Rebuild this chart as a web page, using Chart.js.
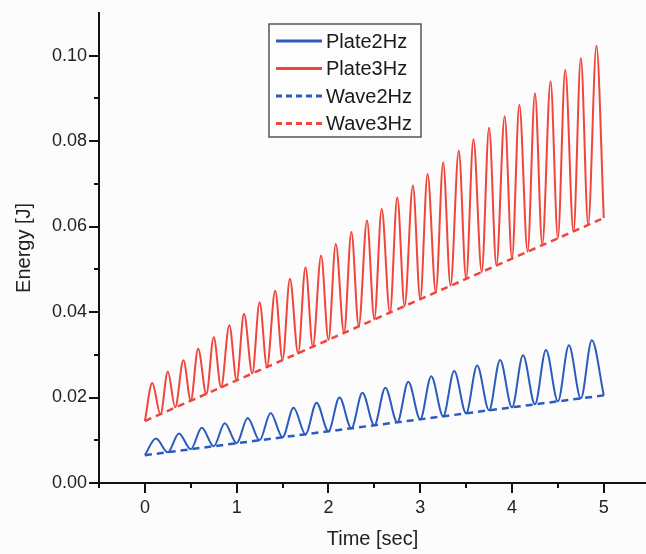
<!DOCTYPE html>
<html>
<head>
<meta charset="utf-8">
<script src="https://cdn.jsdelivr.net/npm/chart.js@4.4.1/dist/chart.umd.min.js"></script>
<style>
    html, body { margin: 0; padding: 0; background: #fcfcfd; }
    #wrap { width: 646px; height: 554px; position: relative; }
</style>
</head>
<body>
<div id="wrap"><canvas id="energyChart"></canvas></div>
<script>
// Wave energy (dashed lines)
const waveTime = [0, 1, 2, 3, 4, 5];
const wave2Hz = [0.0065, 0.0093, 0.0121, 0.0149, 0.0177, 0.0205];
const wave3Hz = [0.0145, 0.0240, 0.0335, 0.0430, 0.0525, 0.0620];

// Plate 3Hz: troughs (touching the wave line) and peaks
const plate3TroughT = [0, 0.17, 0.33, 0.5, 0.67, 0.83, 1, 1.17, 1.33, 1.5, 1.67, 1.83, 2, 2.17, 2.33, 2.5,
    2.67, 2.83, 3, 3.17, 3.33, 3.5, 3.67, 3.83, 4, 4.17, 4.33, 4.5, 4.67, 4.83, 5.0];
const plate3TroughE = [0.0145, 0.0161, 0.0177, 0.0193, 0.0208, 0.0224, 0.0240, 0.0256, 0.0272, 0.0288, 0.0303,
    0.0319, 0.0335, 0.0351, 0.0367, 0.0383, 0.0398, 0.0414, 0.0430, 0.0446, 0.0462, 0.0478, 0.0493, 0.0509,
    0.0525, 0.0541, 0.0557, 0.0573, 0.0588, 0.0604, 0.0620];
const plate3PeakT = [0.08, 0.25, 0.42, 0.58, 0.75, 0.92, 1.08, 1.25, 1.42, 1.58, 1.75, 1.92, 2.08, 2.25, 2.42,
    2.58, 2.75, 2.92, 3.08, 3.25, 3.42, 3.58, 3.75, 3.92, 4.08, 4.25, 4.42, 4.58, 4.75, 4.92];
const plate3PeakE = [0.0234, 0.0261, 0.0287, 0.0314, 0.0341, 0.0369, 0.0396, 0.0423, 0.0450, 0.0478, 0.0505,
    0.0532, 0.0559, 0.0587, 0.0614, 0.0641, 0.0668, 0.0696, 0.0723, 0.0750, 0.0777, 0.0804, 0.0831, 0.0858,
    0.0885, 0.0912, 0.0940, 0.0967, 0.0994, 0.1023];

// Plate 2Hz
const plate2TroughT = [0, 0.25, 0.5, 0.75, 1, 1.25, 1.5, 1.75, 2, 2.25, 2.5, 2.75, 3, 3.25, 3.5, 3.75, 4, 4.25,
    4.5, 4.75, 5];
const plate2TroughE = [0.0065, 0.0072, 0.0079, 0.0086, 0.0093, 0.0100, 0.0107, 0.0114, 0.0121, 0.0128, 0.0135,
    0.0142, 0.0149, 0.0156, 0.0163, 0.0170, 0.0177, 0.0184, 0.0191, 0.0198, 0.0205];
const plate2PeakT = [0.12, 0.37, 0.62, 0.87, 1.12, 1.37, 1.62, 1.87, 2.12, 2.37, 2.62, 2.87, 3.12, 3.37, 3.62,
    3.87, 4.12, 4.37, 4.62, 4.87];
const plate2PeakE = [0.0104, 0.0116, 0.0129, 0.0140, 0.0152, 0.0164, 0.0176, 0.0188, 0.0200, 0.0211, 0.0223,
    0.0237, 0.0250, 0.0262, 0.0275, 0.0288, 0.0299, 0.0311, 0.0322, 0.0334];

const blue = '#2a5bbd';
const red = '#f0453b';

function toPoints(xs, ys) {
    return xs.map((x, i) => ({ x: x, y: ys[i] }));
}

function mergePoints(tT, tE, pT, pE) {
    return toPoints(tT, tE).concat(toPoints(pT, pE)).sort((a, b) => a.x - b.x);
}

// ticks with long majors / short minors, pointing outward
const axisTicks = {
    id: 'axisTicks',
    afterDraw(chart) {
        const ctx = chart.ctx;
        const xs = chart.scales.x;
        const ys = chart.scales.y;
        const area = chart.chartArea;
        ctx.save();
        ctx.strokeStyle = '#111';
        ctx.lineWidth = 2;
        ys.ticks.forEach(t => {
            const k = Math.round(t.value * 100);
            if (Math.abs(t.value * 100 - k) > 1e-6 || k > 10) return;
            const py = Math.round(ys.getPixelForValue(t.value));
            const len = k % 2 === 0 ? 10 : 5;
            ctx.beginPath();
            ctx.moveTo(area.left, py);
            ctx.lineTo(area.left - len, py);
            ctx.stroke();
        });
        xs.ticks.forEach(t => {
            const k = Math.round(t.value * 2);
            if (Math.abs(t.value * 2 - k) > 1e-6) return;
            const px = Math.round(xs.getPixelForValue(t.value));
            const len = k % 2 === 0 ? 10 : 5;
            ctx.beginPath();
            ctx.moveTo(px, area.bottom);
            ctx.lineTo(px, area.bottom + len);
            ctx.stroke();
        });
        ctx.restore();
    }
};

// boxed legend inside the plot
const boxLegend = {
    id: 'boxLegend',
    afterDraw(chart) {
        const ctx = chart.ctx;
        const left = 269, top = 24, width = 152, height = 113;
        ctx.save();
        ctx.fillStyle = '#fdfdfe';
        ctx.fillRect(left, top, width, height);
        ctx.strokeStyle = '#555';
        ctx.lineWidth = 1.5;
        ctx.strokeRect(left, top, width, height);
        ctx.font = '20px "Liberation Sans", Arial, sans-serif';
        ctx.textBaseline = 'middle';
        chart.data.datasets.forEach((ds, i) => {
            const y = top + 17 + i * 27.5;
            ctx.strokeStyle = ds.borderColor;
            ctx.lineWidth = 3;
            ctx.setLineDash(ds.borderDash && ds.borderDash.length ? [6, 4] : []);
            ctx.beginPath();
            ctx.moveTo(left + 7, y);
            ctx.lineTo(left + 53, y);
            ctx.stroke();
            ctx.setLineDash([]);
            ctx.fillStyle = '#1a1a1a';
            ctx.fillText(ds.label, left + 57, y + 1);
        });
        ctx.restore();
    }
};

document.addEventListener('DOMContentLoaded', function() {
    const ctx = document.getElementById('energyChart').getContext('2d');
    const tickFont = { family: '"Liberation Sans", Arial, sans-serif', size: 18 };
    const titleFont = { family: '"Liberation Sans", Arial, sans-serif', size: 20 };
    new Chart(ctx, {
        type: 'line',
        data: {
            datasets: [
                {
                    label: 'Plate2Hz',
                    data: mergePoints(plate2TroughT, plate2TroughE, plate2PeakT, plate2PeakE),
                    borderColor: blue,
                    borderWidth: 2,
                    cubicInterpolationMode: 'monotone'
                },
                {
                    label: 'Plate3Hz',
                    data: mergePoints(plate3TroughT, plate3TroughE, plate3PeakT, plate3PeakE),
                    borderColor: red,
                    borderWidth: 2,
                    cubicInterpolationMode: 'monotone'
                },
                {
                    label: 'Wave2Hz',
                    data: toPoints(waveTime, wave2Hz),
                    borderColor: blue,
                    borderWidth: 2.5,
                    borderDash: [7, 5]
                },
                {
                    label: 'Wave3Hz',
                    data: toPoints(waveTime, wave3Hz),
                    borderColor: red,
                    borderWidth: 2.5,
                    borderDash: [7, 5]
                }
            ]
        },
        options: {
            responsive: true,
            maintainAspectRatio: false,
            animation: false,
            layout: { padding: { top: 10, right: 0, left: 0, bottom: 0 } },
            elements: { point: { radius: 0 } },
            plugins: {
                legend: { display: false },
                tooltip: { enabled: false }
            },
            scales: {
                x: {
                    type: 'linear',
                    min: -0.5,
                    max: 5.46,
                    afterFit: (scale) => { scale.height = 71; },
                    border: { display: true, color: '#111', width: 2 },
                    grid: { drawOnChartArea: false, tickLength: 10, tickColor: 'transparent' },
                    ticks: {
                        stepSize: 0.5,
                        includeBounds: false,
                        padding: 4,
                        color: '#222',
                        font: tickFont,
                        maxRotation: 0,
                        autoSkip: false,
                        callback: (v) => (Number.isInteger(v) && v >= 0 && v <= 5) ? String(v) : ''
                    },
                    title: {
                        display: true,
                        text: 'Time [sec]',
                        color: '#222',
                        font: titleFont,
                        padding: { top: 0, bottom: 3 }
                    }
                },
                y: {
                    min: 0,
                    max: 0.11,
                    afterFit: (scale) => { scale.width = 99; },
                    border: { display: true, color: '#111', width: 2 },
                    grid: { drawOnChartArea: false, tickLength: 10, tickColor: 'transparent' },
                    ticks: {
                        stepSize: 0.01,
                        padding: 2,
                        color: '#222',
                        font: tickFont,
                        autoSkip: false,
                        callback: (v) => {
                            const k = Math.round(v * 100);
                            return (k % 2 === 0 && k <= 10) ? v.toFixed(2) : '';
                        }
                    },
                    title: {
                        display: true,
                        text: 'Energy [J]',
                        color: '#222',
                        font: titleFont,
                        padding: { top: 12, bottom: 0 }
                    }
                }
            }
        },
        plugins: [axisTicks, boxLegend]
    });
});
</script>
</body>
</html>
